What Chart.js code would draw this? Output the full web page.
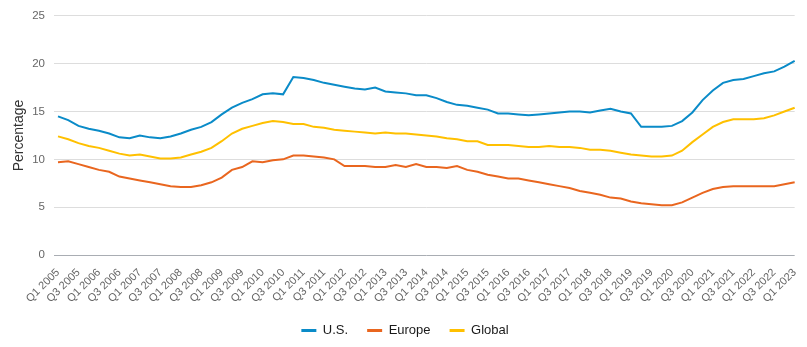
<!DOCTYPE html>
<html>
<head>
<meta charset="utf-8">
<script src="https://cdn.jsdelivr.net/npm/chart.js@4.4.1/dist/chart.umd.min.js"></script>
<style>
  html, body { margin: 0; padding: 0; background: #ffffff; }
  #wrap { width: 807px; height: 347px; }
</style>
</head>
<body>
<div id="wrap"><canvas id="chart" width="807" height="347"></canvas></div>
<script>
// Quarterly periods, Q1 2005 – Q1 2023
const quarters = [
  'Q1 2005','Q2 2005','Q3 2005','Q4 2005',
  'Q1 2006','Q2 2006','Q3 2006','Q4 2006',
  'Q1 2007','Q2 2007','Q3 2007','Q4 2007',
  'Q1 2008','Q2 2008','Q3 2008','Q4 2008',
  'Q1 2009','Q2 2009','Q3 2009','Q4 2009',
  'Q1 2010','Q2 2010','Q3 2010','Q4 2010',
  'Q1 2011','Q2 2011','Q3 2011','Q4 2011',
  'Q1 2012','Q2 2012','Q3 2012','Q4 2012',
  'Q1 2013','Q2 2013','Q3 2013','Q4 2013',
  'Q1 2014','Q2 2014','Q3 2014','Q4 2014',
  'Q1 2015','Q2 2015','Q3 2015','Q4 2015',
  'Q1 2016','Q2 2016','Q3 2016','Q4 2016',
  'Q1 2017','Q2 2017','Q3 2017','Q4 2017',
  'Q1 2018','Q2 2018','Q3 2018','Q4 2018',
  'Q1 2019','Q2 2019','Q3 2019','Q4 2019',
  'Q1 2020','Q2 2020','Q3 2020','Q4 2020',
  'Q1 2021','Q2 2021','Q3 2021','Q4 2021',
  'Q1 2022','Q2 2022','Q3 2022','Q4 2022',
  'Q1 2023'
];

// Percentage values per series
const usValues = [
  14.5, 14.1, 13.5, 13.2, 13.0, 12.7, 12.3, 12.2, 12.5, 12.3, 12.2, 12.4,
  12.7, 13.1, 13.4, 13.9, 14.7, 15.4, 15.9, 16.3, 16.8, 16.9, 16.8, 18.6,
  18.5, 18.3, 18.0, 17.8, 17.6, 17.4, 17.3, 17.5, 17.1, 17.0, 16.9, 16.7,
  16.7, 16.4, 16.0, 15.7, 15.6, 15.4, 15.2, 14.8, 14.8, 14.7, 14.6, 14.7,
  14.8, 14.9, 15.0, 15.0, 14.9, 15.1, 15.3, 15.0, 14.8, 13.4, 13.4, 13.4,
  13.5, 14.0, 14.9, 16.2, 17.2, 18.0, 18.3, 18.4, 18.7, 19.0, 19.2, 19.7,
  20.3
];

const europeValues = [
  9.7, 9.8, 9.5, 9.2, 8.9, 8.7, 8.2, 8.0, 7.8, 7.6, 7.4, 7.2,
  7.1, 7.1, 7.3, 7.6, 8.1, 8.9, 9.2, 9.8, 9.7, 9.9, 10.0, 10.4,
  10.4, 10.3, 10.2, 10.0, 9.3, 9.3, 9.3, 9.2, 9.2, 9.4, 9.2, 9.5,
  9.2, 9.2, 9.1, 9.3, 8.9, 8.7, 8.4, 8.2, 8.0, 8.0, 7.8, 7.6,
  7.4, 7.2, 7.0, 6.7, 6.5, 6.3, 6.0, 5.9, 5.6, 5.4, 5.3, 5.2,
  5.2, 5.5, 6.0, 6.5, 6.9, 7.1, 7.2, 7.2, 7.2, 7.2, 7.2, 7.4,
  7.6
];

const globalValues = [
  12.4, 12.1, 11.7, 11.4, 11.2, 10.9, 10.6, 10.4, 10.5, 10.3, 10.1, 10.1,
  10.2, 10.5, 10.8, 11.2, 11.9, 12.7, 13.2, 13.5, 13.8, 14.0, 13.9, 13.7,
  13.7, 13.4, 13.3, 13.1, 13.0, 12.9, 12.8, 12.7, 12.8, 12.7, 12.7, 12.6,
  12.5, 12.4, 12.2, 12.1, 11.9, 11.9, 11.5, 11.5, 11.5, 11.4, 11.3, 11.3,
  11.4, 11.3, 11.3, 11.2, 11.0, 11.0, 10.9, 10.7, 10.5, 10.4, 10.3, 10.3,
  10.4, 10.9, 11.8, 12.6, 13.4, 13.9, 14.2, 14.2, 14.2, 14.3, 14.6, 15.0,
  15.4
];

const seriesNames = ['U.S.', 'Europe', 'Global'];
const seriesColors = ['#0a8bc8', '#e9661f', '#ffc000'];

const font = "'Liberation Sans', Arial, sans-serif";

// Nudges the legend row so it sits centred on the whole canvas
const legendShift = {
  id: 'legendShift',
  afterLayout(chart) {
    const lg = chart.legend;
    if (lg) { lg.left += 6; lg.right += 6; }
  }
};

const ctx = document.getElementById('chart').getContext('2d');
new Chart(ctx, {
  type: 'line',
  plugins: [legendShift],
  data: {
    labels: quarters,
    datasets: [usValues, europeValues, globalValues].map((values, i) => ({
      label: seriesNames[i],
      data: values,
      borderColor: seriesColors[i],
      backgroundColor: seriesColors[i],
      borderWidth: 2,
      pointRadius: 0,
      pointHoverRadius: 0,
      tension: 0,
      fill: false
    }))
  },
  options: {
    responsive: false,
    animation: false,
    devicePixelRatio: 1,
    layout: { padding: { top: 12, right: 9, left: 0, bottom: 0 } },
    plugins: {
      tooltip: { enabled: false },
      legend: {
        position: 'bottom',
        labels: {
          font: { family: font, size: 13 },
          color: '#1a1a1a',
          boxWidth: 15,
          boxHeight: 3,
          padding: 19,
          // flat colour swatches, no outline
          generateLabels: (chart) =>
            Chart.defaults.plugins.legend.labels.generateLabels(chart).map((item) => ({
              ...item,
              lineWidth: 0,
              strokeStyle: 'rgba(0,0,0,0)'
            }))
        }
      }
    },
    scales: {
      x: {
        offset: false,
        grid: { display: false },
        border: { display: false },
        ticks: {
          autoSkip: false,
          maxRotation: 45,
          minRotation: 45,
          padding: 3,
          color: '#666666',
          font: { family: font, size: 11 },
          callback: function (value, index) {
            return index % 2 === 0 ? this.getLabelForValue(value) : '';
          }
        },
        afterFit: (scale) => { scale.height = 50; }
      },
      y: {
        min: 0,
        max: 25,
        border: { display: false },
        grid: {
          color: (c) => (c.tick && c.tick.value === 0 ? '#a9adb3' : '#dddddd'),
          lineWidth: 1,
          tickLength: 4
        },
        ticks: {
          stepSize: 5,
          padding: 9,
          color: '#666666',
          font: { family: font, size: 11.5 }
        },
        title: {
          display: true,
          text: 'Percentage',
          color: '#333333',
          font: { family: font, size: 14 },
          padding: { top: 11, bottom: 0 }
        },
        afterFit: (scale) => { scale.width = 58; }
      }
    }
  }
});
</script>
</body>
</html>
